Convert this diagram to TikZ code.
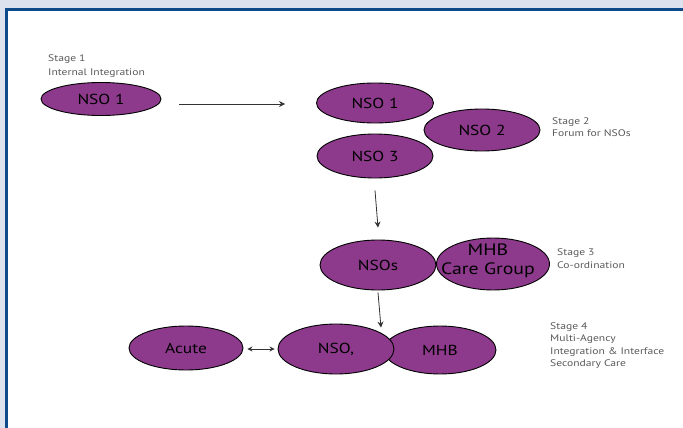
\documentclass[tikz,border=0pt]{standalone}
\usepackage{fontspec}
\usetikzlibrary{shapes.geometric,arrows.meta}
\newfontfamily\lblfont[FakeStretch=1.2]{PT Sans}
\newfontfamily\notefont[FakeStretch=1.22]{PT Sans}
\definecolor{pagebg}{HTML}{DCE3EE}
\definecolor{frameblue}{HTML}{0E4A8A}
\definecolor{orgpurple}{HTML}{8D3A8C}
\definecolor{notegray}{HTML}{5A5A5A}
\tikzset{
  org/.style={ellipse, draw=black, line width=0.9pt, fill=orgpurple,
    inner sep=0pt, font=\lblfont\fontsize{14.5}{15}\selectfont, text=black},
  note/.style={anchor=west, align=left, inner sep=0pt, text=notegray,
    font=\notefont\fontsize{9.5}{12.5}\selectfont},
  arr/.style={line width=0.8pt, draw=black!80, -{Stealth[length=6pt,width=6pt]}},
  darr/.style={line width=0.8pt, draw=black!80, {Stealth[length=5pt,width=5pt]}-{Stealth[length=5pt,width=5pt]}}
}
\begin{document}
\begin{tikzpicture}[x=1pt,y=-1pt]
  % page background and framed panel
  \fill[pagebg] (0,0) rectangle (683,428);
  \useasboundingbox (0,0) rectangle (683,428);
  \fill[white] (5,8) rectangle (700,440);
  \draw[frameblue, line width=3pt] (6.5,440) -- (6.5,9.5) -- (700,9.5);

  % Stage 1
  \node[note] (n1) at (48,66) {Stage 1\\[1.5pt]Internal Integration};
  \node[org, minimum width=120pt, minimum height=33pt] (s1nso) at (101,99) {NSO 1};

  % Stage 2
  \node[org, minimum width=117pt, minimum height=40pt] (s2nso1) at (375,103) {NSO 1};
  \node[org, minimum width=116pt, minimum height=44pt] (s2nso3) at (375,156) {NSO 3};
  \node[org, minimum width=116pt, minimum height=42pt] (s2nso2) at (482,130) {NSO 2};
  \node[note] (n2) at (552,127) {Stage 2\\Forum for NSOs};

  % Stage 3
  \node[org, minimum width=116pt, minimum height=50pt] (s3nsos) at (378,265) {NSOs};
  \node[org, minimum width=113pt, minimum height=52pt] (s3mhb) at (493,264) {};
  \node[inner sep=0pt, align=center, text=black,
    font=\lblfont\fontsize{16.5}{19}\selectfont] (s3txt) at (488,261) {MHB\\Care Group};
  \node[note] (n3) at (557,258.5) {Stage 3\\Co-ordination};

  % Stage 4
  \node[org, minimum width=114pt, minimum height=44pt] (s4acute) at (186,348) {Acute};
  \node[org, minimum width=112pt, minimum height=48pt] (s4mhb) at (440,350) {MHB};
  \node[org, minimum width=116pt, minimum height=50pt] (s4nso) at (336,349) {NSO,};
  \node[note] (n4) at (550,345.5) {Stage 4\\Multi-Agency\\Integration \& Interface\\Secondary Care};

  % connectors
  \draw[arr] ([shift={(18,5)}]s1nso.east) -- ([shift={(-31,1)}]s2nso1.west);
  \draw[arr] ([shift={(0,12)}]s2nso3.south) -- ([shift={(0,-12)}]s3nsos.north);
  \draw[arr] ([shift={(0,2)}]s3nsos.south) -- ([shift={(45,4)}]s4nso.north);
  \draw[darr] ([shift={(4,1)}]s4acute.east) -- ([shift={(-3,0)}]s4nso.west);
\end{tikzpicture}
\end{document}
